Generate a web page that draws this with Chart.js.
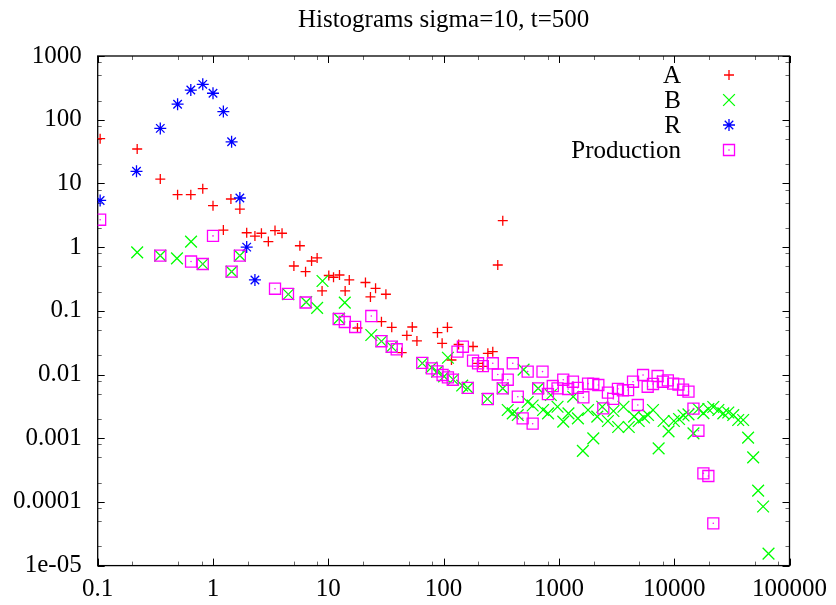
<!DOCTYPE html>
<html>
<head>
<meta charset="utf-8">
<script src="https://cdn.jsdelivr.net/npm/chart.js@4/dist/chart.umd.min.js"></script>
<style>
  html, body { margin: 0; padding: 0; background: #fff; }
  canvas { display: block; }
</style>
</head>
<body>
<canvas id="grafico" width="836" height="605"></canvas>
<script>
// Dados (x, y de cada série)
const titulo = "Histograms sigma=10, t=500";
const nomes = ["A", "B", "R", "Production"];

const aX = [0.105, 0.22, 0.349, 0.493, 0.642, 0.815, 1.0, 1.23, 1.43, 1.71, 1.96, 2.31, 2.63, 3.02, 3.45, 3.97, 5.03, 5.67, 6.35, 7.16, 8.0, 8.83, 10.1, 11.1, 12.5, 14.0, 15.2, 17.9, 21.0, 23.2, 25.7, 28.9, 31.6, 35.5, 43.3, 48.0, 53.5, 58.7, 88.5, 97.1, 108, 117, 135, 180, 199, 219, 242, 267, 295, 326];
const aY = [50.3, 34.7, 11.7, 6.65, 6.65, 8.26, 4.47, 1.85, 5.69, 3.96, 1.68, 1.49, 1.65, 1.22, 1.82, 1.65, 0.505, 1.05, 0.411, 0.605, 0.675, 0.205, 0.358, 0.336, 0.365, 0.205, 0.305, 0.0537, 0.278, 0.165, 0.225, 0.0675, 0.182, 0.0551, 0.0221, 0.041, 0.0557, 0.0336, 0.0453, 0.0309, 0.0551, 0.0169, 0.0296, 0.0275, 0.015, 0.0134, 0.0215, 0.0228, 0.524, 2.6];

const bX = [0.22, 0.349, 0.487, 0.645, 0.815, 1.45, 1.71, 4.5, 6.43, 8.0, 8.91, 12.4, 13.9, 23.6, 28.9, 35.5, 65.3, 78.5, 87.9, 101, 109, 121, 145, 162, 240, 326, 360, 398, 440, 494, 536, 592, 661, 729, 805, 851, 973, 1091, 1210, 1331, 1462, 1614, 1790, 1988, 2153, 2377, 2661, 2972, 3266, 3631, 4036, 4487, 4920, 5470, 5929, 6546, 7328, 8091, 8933, 9931, 11016, 12050, 13300, 14690, 16220, 17910, 19780, 21830, 24150, 26670, 29440, 32510, 35890, 39630, 43750, 48420, 53460, 59020, 65770];
const bY = [0.828, 0.733, 0.667, 1.22, 0.543, 0.411, 0.733, 0.182, 0.137, 0.111, 0.294, 0.0752, 0.134, 0.0417, 0.0333, 0.0273, 0.015, 0.0129, 0.0111, 0.00937, 0.0183, 0.00834, 0.00671, 0.00618, 0.00412, 0.00607, 0.00277, 0.00246, 0.00231, 0.0119, 0.0037, 0.00326, 0.00607, 0.00277, 0.00246, 0.00477, 0.00312, 0.00182, 0.00246, 0.00448, 0.00205, 0.000634, 0.00277, 0.000996, 0.00218, 0.00312, 0.00186, 0.00267, 0.0015, 0.00312, 0.0015, 0.00218, 0.00186, 0.00211, 0.00231, 0.00277, 0.000693, 0.00186, 0.00128, 0.00186, 0.002, 0.00227, 0.00236, 0.00119, 0.00287, 0.00248, 0.00287, 0.00309, 0.00277, 0.00246, 0.00253, 0.00231, 0.00193, 0.00193, 0.00102, 0.000501, 0.00015, 0.0000847, 0.0000154];

const rX = [0.105, 0.217, 0.349, 0.493, 0.642, 0.815, 1.0, 1.23, 1.45, 1.71, 1.96, 2.31];
const rY = [5.4, 15.5, 73, 175, 292, 359, 260, 134, 45, 5.9, 1.0, 0.305];

const pX = [0.105, 0.349, 0.645, 0.815, 1.0, 1.45, 1.71, 3.45, 4.47, 6.35, 12.3, 13.9, 17.1, 23.6, 28.9, 35.5, 39.2, 65.3, 79.1, 88.5, 98.0, 109, 120, 132, 147, 162, 180, 199, 219, 242, 267, 295, 326, 360, 398, 440, 485, 536, 592, 661, 721, 803, 885, 973, 1091, 1202, 1324, 1455, 1630, 1790, 1988, 2198, 2427, 2661, 2958, 3251, 3590, 3981, 4395, 4831, 5370, 5888, 6546, 7178, 7980, 8810, 9790, 10890, 11940, 13300, 14690, 16220, 17910, 19780, 21830];
const pY = [2.69, 0.733, 0.594, 0.543, 1.5, 0.411, 0.733, 0.222, 0.184, 0.135, 0.0743, 0.0667, 0.0557, 0.0828, 0.0333, 0.0273, 0.0249, 0.0152, 0.0125, 0.0112, 0.00982, 0.00904, 0.00828, 0.0228, 0.0273, 0.00618, 0.0165, 0.015, 0.0135, 0.00412, 0.015, 0.01, 0.00607, 0.00828, 0.015, 0.00448, 0.00205, 0.0111, 0.00169, 0.00607, 0.0111, 0.00494, 0.00659, 0.00607, 0.00828, 0.00592, 0.0077, 0.00618, 0.00439, 0.00718, 0.0071, 0.00684, 0.00294, 0.00518, 0.00415, 0.00596, 0.00565, 0.0057, 0.0077, 0.00332, 0.00982, 0.00643, 0.0071, 0.00947, 0.0077, 0.0081, 0.00718, 0.00697, 0.00577, 0.00537, 0.00292, 0.00131, 0.000281, 0.000255, 0.0000461];

// Marcas dos eixos
const xTicks = [0.1, 1, 10, 100, 1000, 10000, 100000];
const xTickLabels = ["0.1", "1", "10", "100", "1000", "10000", "100000"];
const yTicks = [1e-5, 1e-4, 1e-3, 0.01, 0.1, 1, 10, 100, 1000];
const yTickLabels = ["1e-05", "0.0001", "0.001", "0.01", "0.1", "1", "10", "100", "1000"];
const minorMult = [2, 5, 8];

const fonte = "'Liberation Serif', 'DejaVu Serif', serif";
const tamFonte = 25;

function pontos(xs, ys) {
  return xs.map((x, i) => ({ x: x, y: ys[i] }));
}

const datasets = [
  {
    label: nomes[0], data: pontos(aX, aY), order: 3,
    pointStyle: "cross", pointRadius: 5, borderColor: "#ff0000", borderWidth: 1.3,
  },
  {
    label: nomes[1], data: pontos(bX, bY), order: 2,
    pointStyle: "crossRot", pointRadius: 8.3, borderColor: "#00ff00", borderWidth: 1.3,
  },
  {
    label: nomes[2], data: pontos(rX, rY), order: 1,
    pointStyle: "star", pointRadius: 6, borderColor: "#0000ff", borderWidth: 1.3,
  },
  {
    label: nomes[3], data: pontos(pX, pY), order: 0,
    pointStyle: "rect", pointRadius: 7.8, borderColor: "#ff00ff",
    backgroundColor: "rgba(0,0,0,0)", borderWidth: 1.3,
  },
  {
    // ponto central do quadrado
    label: "", data: pontos(pX, pY), order: 0,
    pointStyle: "circle", pointRadius: 0.8, borderWidth: 0,
    backgroundColor: "#ff00ff",
  },
];
datasets.forEach((d) => { d.pointHoverRadius = d.pointRadius; });

// Moldura, marcas internas, título e legenda no estilo gnuplot
const gnuplotPlugin = {
  id: "gnuplot",
  beforeDatasetsDraw(chart) {
    const { ctx, chartArea: a, scales } = chart;
    ctx.save();
    const marca = (vals, len, cor) => {
      ctx.strokeStyle = cor;
      ctx.lineWidth = 1;
      ctx.beginPath();
      vals.forEach((v) => {
        const px = Math.round(scales.x.getPixelForValue(v)) + 0.5;
        if (px >= a.left - 1 && px <= a.right + 1) {
          ctx.moveTo(px, a.bottom); ctx.lineTo(px, a.bottom - len);
          ctx.moveTo(px, a.top); ctx.lineTo(px, a.top + len);
        }
      });
      ctx.stroke();
    };
    const marcaY = (vals, len, cor) => {
      ctx.strokeStyle = cor;
      ctx.lineWidth = 1;
      ctx.beginPath();
      vals.forEach((v) => {
        const py = Math.round(scales.y.getPixelForValue(v)) + 0.5;
        if (py >= a.top - 1 && py <= a.bottom + 1) {
          ctx.moveTo(a.left, py); ctx.lineTo(a.left + len, py);
          ctx.moveTo(a.right, py); ctx.lineTo(a.right - len, py);
        }
      });
      ctx.stroke();
    };
    const menores = (maiores) => {
      const out = [];
      maiores.forEach((m) => minorMult.forEach((k) => out.push(m * k)));
      return out;
    };
    marca(menores(xTicks), 4, "#666");
    marcaY(menores(yTicks), 4, "#666");
    marca(xTicks, 7, "#000");
    marcaY(yTicks, 7, "#000");

    ctx.strokeStyle = "#000";
    ctx.lineWidth = 1.3;
    ctx.strokeRect(a.left, a.top, a.right - a.left, a.bottom - a.top);
    ctx.restore();
  },
  afterDraw(chart) {
    const { ctx, chartArea: a } = chart;
    ctx.save();
    ctx.fillStyle = "#000";
    ctx.font = tamFonte + "px " + fonte;
    ctx.textAlign = "center";
    ctx.textBaseline = "alphabetic";
    ctx.fillText(titulo, (a.left + a.right) / 2, 27);

    // legenda
    ctx.textAlign = "right";
    ctx.textBaseline = "middle";
    for (let i = 0; i < 4; i++) {
      const ds = chart.data.datasets[i];
      const y = 75 + i * 25;
      ctx.fillStyle = "#000";
      ctx.fillText(ds.label, 681, y + 1);
      ctx.strokeStyle = ds.borderColor;
      ctx.fillStyle = "rgba(0,0,0,0)";
      ctx.lineWidth = ds.borderWidth;
      Chart.helpers.drawPoint(ctx, {
        pointStyle: ds.pointStyle, radius: ds.pointRadius,
        borderWidth: ds.borderWidth, rotation: 0,
      }, 729, y);
      if (i === 3) {
        ctx.fillStyle = "#ff00ff";
        ctx.beginPath();
        ctx.arc(729, y, 0.8, 0, Math.PI * 2);
        ctx.fill();
      }
    }
    ctx.restore();
  },
};

const config = {
  type: "scatter",
  data: { datasets: datasets },
  options: {
    responsive: false,
    animation: false,
    devicePixelRatio: 1,
    layout: { padding: { left: 0, right: 42.7, top: 56, bottom: 0 } },
    plugins: {
      legend: { display: false },
      title: { display: false },
      tooltip: { enabled: false },
    },
    scales: {
      x: {
        type: "logarithmic",
        min: 0.1,
        max: 100000,
        afterFit: (s) => { s.height = 39.4; },
        afterBuildTicks: (s) => { s.ticks = xTicks.map((v) => ({ value: v })); },
        ticks: {
          autoSkip: false, maxRotation: 0, padding: 9, color: "#000",
          font: { family: fonte, size: tamFonte },
          callback: (v) => { const i = xTicks.indexOf(v); return i >= 0 ? xTickLabels[i] : ""; },
        },
        grid: { display: false, drawTicks: false },
        border: { display: false },
      },
      y: {
        type: "logarithmic",
        min: 1e-5,
        max: 1000,
        afterFit: (s) => { s.width = 97.7; },
        afterBuildTicks: (s) => { s.ticks = yTicks.map((v) => ({ value: v })); },
        ticks: {
          autoSkip: false, padding: 16, color: "#000",
          font: { family: fonte, size: tamFonte },
          callback: (v) => { const i = yTicks.indexOf(v); return i >= 0 ? yTickLabels[i] : ""; },
        },
        grid: { display: false, drawTicks: false },
        border: { display: false },
      },
    },
  },
  plugins: [gnuplotPlugin],
};

const ctx = document.getElementById("grafico").getContext("2d");
const grafico = new Chart(ctx, config);
</script>
</body>
</html>
